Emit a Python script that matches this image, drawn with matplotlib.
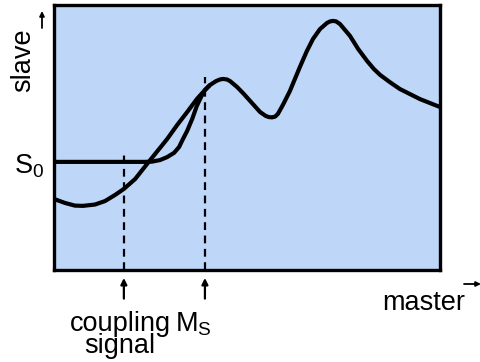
import matplotlib
matplotlib.use('Agg')
import matplotlib.pyplot as plt

plt.rcParams['font.family'] = ['Liberation Sans', 'DejaVu Sans']
plt.rcParams['mathtext.fontset'] = 'custom'
plt.rcParams['mathtext.rm'] = 'Liberation Sans'
plt.rcParams['mathtext.it'] = 'Liberation Sans'

# slave curve (master position -> slave position)
master_x = [0, 2.85, 5.4, 7.5, 10.6, 13.2, 15.8, 18.1, 21.0, 24.1, 26.2, 29.3, 31.9,
            34.5, 37.0, 39.1, 40.4, 42.0, 43.0, 43.8, 44.8, 45.6, 47.4, 49.2, 50.8,
            53.4, 54.9, 55.7, 56.5, 57.3, 58.0, 59.3, 61.1, 63.7, 65.5, 67.1, 68.9,
            70.7, 71.5, 72.3, 73.1, 74.1, 76.7, 78.8, 81.1, 82.9, 84.5, 87.0, 89.6,
            92.2, 94.8, 97.4, 100]
slave_y = [26.8, 25.3, 24.3, 24.2, 24.7, 26.0, 28.3, 30.6, 34.3, 40.0, 43.8, 49.4, 54.7,
           59.6, 64.5, 67.9, 69.8, 71.3, 71.9, 72.1, 71.9, 71.3, 69.1, 66.4, 63.8,
           59.6, 58.1, 57.7, 57.6, 57.9, 58.9, 62.3, 67.5, 76.6, 82.6, 87.2, 90.9,
           93.2, 93.8, 94.0, 93.8, 92.8, 88.3, 83.4, 78.9, 75.8, 73.6, 70.9, 68.3,
           66.4, 64.5, 63.0, 61.5]

# coupling movement: hold S0, then run in to the curve
coup_x = [0, 21.8, 23.6, 25.4, 27.5, 29.3, 31.1, 32.4, 33.4, 34.5, 35.8, 37.0, 38.1, 39.1, 40.4]
coup_y = [40.8, 40.8, 40.8, 40.9, 41.5, 42.6, 44.2, 46.4, 49.4, 52.5, 57.0, 61.9, 65.3, 67.9, 69.8]

s0 = 40.8
coupling_signal = 18.1
ms = 39.1
ms_top = 72.8
coupling_top = 44.9

fig = plt.figure(figsize=(4.81, 3.62), dpi=100)
ax = fig.add_axes([54 / 481, 1 - 270 / 362, 386 / 481, 265 / 362])
ax.set_facecolor('#bed6f8')
ax.set_xlim(0, 100)
ax.set_ylim(0, 100)
ax.set_xticks([])
ax.set_yticks([])
for s in ax.spines.values():
    s.set_linewidth(2.4)

ax.plot(coup_x, coup_y, color='black', lw=3.0, solid_capstyle='butt',
        solid_joinstyle='round')
ax.plot(master_x, slave_y, color='black', lw=3.0, solid_capstyle='butt',
        solid_joinstyle='round')

ax.plot([coupling_signal, coupling_signal], [0, coupling_top], color='black', lw=1.6,
        dashes=(3.5, 2.5))
ax.plot([ms, ms], [0, ms_top], color='black', lw=1.6, dashes=(3.5, 2.5))

# arrows below the frame
for xv in [coupling_signal, ms]:
    ax.annotate('', xy=(xv, -0.03), xytext=(xv, -0.108),
                xycoords=('data', 'axes fraction'), textcoords=('data', 'axes fraction'),
                arrowprops=dict(arrowstyle='-|>', lw=1.6, color='black',
                                mutation_scale=9, shrinkA=0, shrinkB=0))

fs = 19.5
fig.text(0.25, 1 - 353 / 362, 'coupling\nsignal', ha='center', va='baseline',
         multialignment='center', linespacing=0.8, fontsize=fs)
fig.text(175 / 481, 1 - 332 / 362, r'M$_\mathrm{S}$', ha='left', va='baseline', fontsize=fs)
fig.text(14 / 481, 1 - 173 / 362, r'S$_0$', ha='left', va='baseline', fontsize=fs)
fig.text(382 / 481, 1 - 310 / 362, 'master', ha='left', va='baseline', fontsize=fs)
fig.text(23 / 481, 1 - 60 / 362, 'slave', ha='center', va='center', rotation=90,
         fontsize=fs)

# axis direction arrows
fig.add_artist(matplotlib.patches.FancyArrowPatch(
    (464 / 481, 1 - 284 / 362), (481 / 481, 1 - 284 / 362), transform=fig.transFigure,
    arrowstyle='-|>', mutation_scale=7, lw=1.3, color='black', shrinkA=0, shrinkB=0))
fig.add_artist(matplotlib.patches.FancyArrowPatch(
    (42 / 481, 1 - 28 / 362), (42 / 481, 1 - 11 / 362), transform=fig.transFigure,
    arrowstyle='-|>', mutation_scale=7, lw=1.3, color='black', shrinkA=0, shrinkB=0))

fig.savefig('out.png', dpi=100)
